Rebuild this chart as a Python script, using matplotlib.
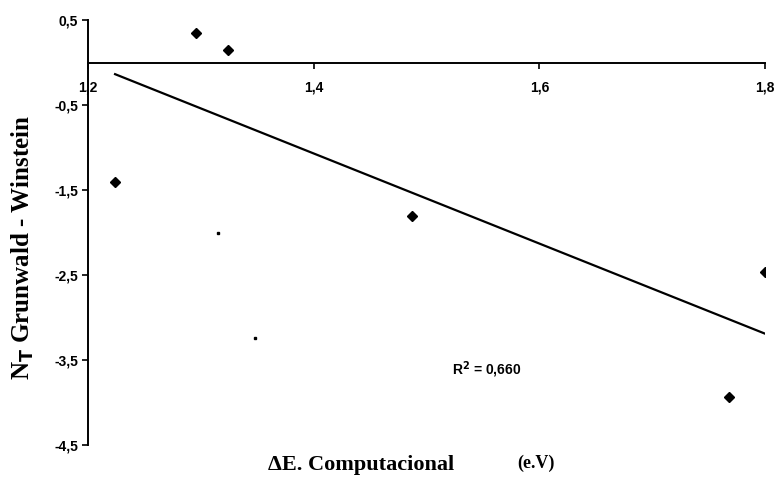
import numpy as np
import matplotlib.pyplot as plt
from matplotlib.ticker import FuncFormatter

# energy gap (eV) vs N_T Grunwald-Winstein
deltaE = [1.296, 1.324, 1.224, 1.4875, 1.800, 1.768]
nT = [0.35, 0.15, -1.40, -1.80, -2.47, -3.94]

# faint extra points
deltaE_small = [1.315, 1.348]
nT_small = [-2.01, -3.24]

# linear trend  y = a + b*x
fitA = 6.35
fitB = -5.30
fitRange = [1.224, 1.800]
r2 = 0.660

def comma(v, pos):
    return ("%.1f" % v).replace(".", ",")

fig = plt.figure(figsize=(7.76, 4.94), dpi=100)
ax = fig.add_axes([0.1134, 0.0992, 0.8724, 0.8603])

ax.plot(deltaE, nT, "D", color="black", markersize=5)
ax.plot(deltaE_small, nT_small, "s", color="black", markersize=1.5)

xs = np.array(fitRange)
ax.plot(xs, fitA + fitB * xs, color="black", linewidth=1.6)

ax.set_xlim(1.2, 1.8)
ax.set_ylim(-4.5, 0.5)
ax.set_xticks([1.2, 1.4, 1.6, 1.8])
ax.set_yticks([0.5, -0.5, -1.5, -2.5, -3.5, -4.5])
ax.xaxis.set_major_formatter(FuncFormatter(comma))
ax.yaxis.set_major_formatter(FuncFormatter(comma))

ax.spines["top"].set_visible(False)
ax.spines["right"].set_visible(False)
ax.spines["bottom"].set_position(("data", 0))
ax.spines["left"].set_linewidth(1.4)
ax.spines["bottom"].set_linewidth(1.4)
ax.tick_params(axis="x", direction="out", length=4, width=1.2, pad=9)
ax.tick_params(axis="y", direction="out", length=4, width=1.2, pad=3)
for lab in ax.get_xticklabels() + ax.get_yticklabels():
    lab.set_fontfamily("Liberation Sans")
    lab.set_fontweight("bold")
    lab.set_fontsize(10)

ax.text(1.523, -3.62, "R$^\\mathbf{2}$ = %s" % ("%.3f" % r2).replace(".", ","),
        fontsize=10, fontweight="bold", family="Liberation Sans",
        ha="left", va="center")

fig.text(0.029, 0.50, "N$_\\mathbf{T}$ Grunwald - Winstein", rotation=90,
         ha="center", va="center", fontsize=18, fontweight="bold",
         family="Liberation Serif")
fig.text(0.465, 0.058, "\u0394E. Computacional", ha="center", va="center",
         fontsize=16, fontweight="bold", family="Liberation Serif")
fig.text(0.69, 0.062, "(e.V)", ha="center", va="center",
         fontsize=13, fontweight="bold", family="Liberation Serif")

fig.savefig("out.png", dpi=100)
